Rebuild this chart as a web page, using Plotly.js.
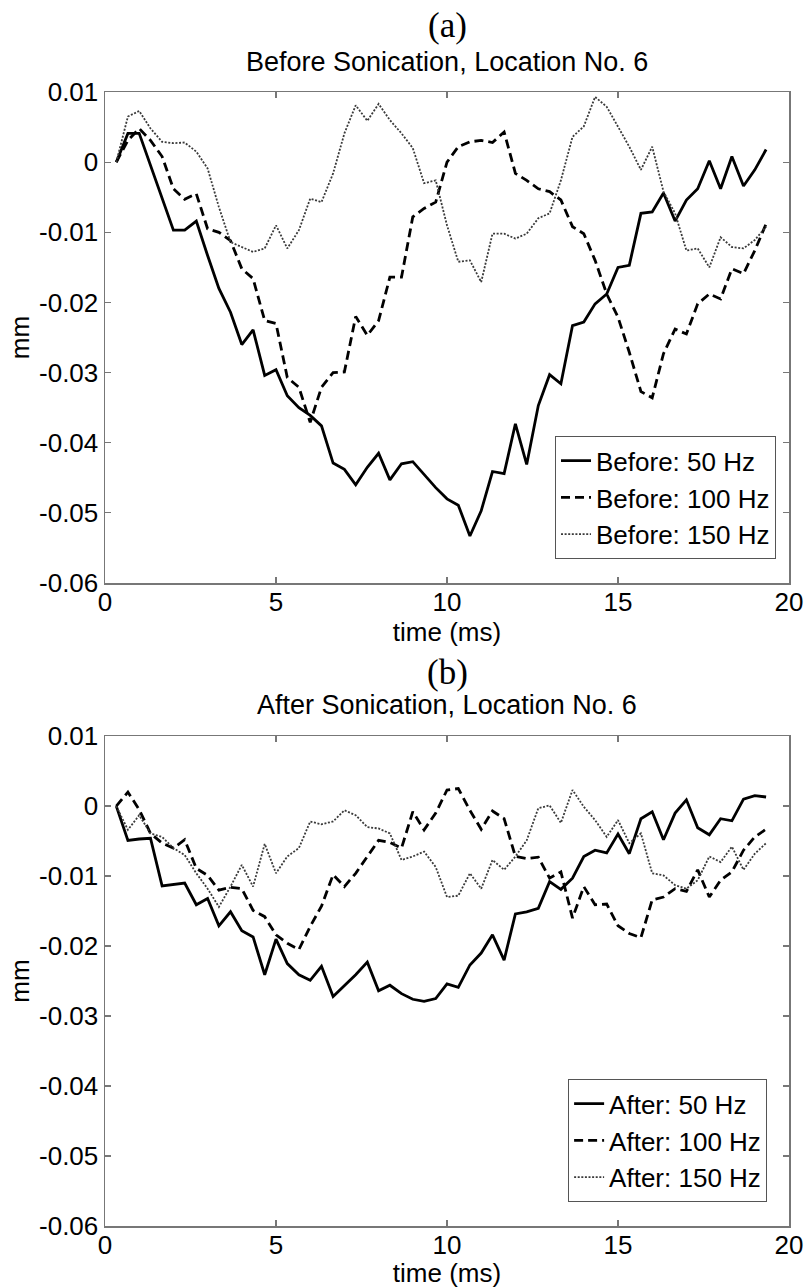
<!DOCTYPE html>
<html>
<head>
<meta charset="utf-8">
<script src="https://cdn.plot.ly/plotly-3.0.1.min.js"></script>
<style>html,body{margin:0;padding:0;background:#fff;}#chart{width:809px;height:1288px;}</style>
</head>
<body>
<div id="chart"></div>
<script>
// time axis (ms)
const time = [0.33,0.67,1.00,1.33,1.67,2.00,2.33,2.67,3.00,3.33,3.67,4.00,4.33,4.67,5.00,5.33,5.67,6.00,6.33,6.67,
  7.00,7.33,7.67,8.00,8.33,8.67,9.00,9.33,9.67,10.00,10.33,10.67,11.00,11.33,11.67,12.00,12.33,12.67,13.00,13.33,
  13.67,14.00,14.33,14.67,15.00,15.33,15.67,16.00,16.33,16.67,17.00,17.33,17.67,18.00,18.33,18.67,19.00,19.33];

// (a) Before sonication, displacement in mm
const before50 = [0,0.0041,0.0041,-0.0005,-0.0051,-0.0097,-0.0097,-0.0084,-0.0133,-0.0180,
  -0.0214,-0.0260,-0.0239,-0.0304,-0.0296,-0.0333,-0.0350,-0.0361,-0.0376,-0.0429,
  -0.0438,-0.0460,-0.0435,-0.0415,-0.0453,-0.0430,-0.0427,-0.0445,-0.0464,-0.0480,
  -0.0489,-0.0533,-0.0497,-0.0441,-0.0444,-0.0373,-0.0431,-0.0347,-0.0303,-0.0316,
  -0.0233,-0.0228,-0.0202,-0.0188,-0.0150,-0.0147,-0.0073,-0.0071,-0.0044,-0.0084,
  -0.0054,-0.0038,0.0002,-0.0038,0.0008,-0.0034,-0.0011,0.0018];
const before100 = [0,0.0031,0.0048,0.0031,0.0008,-0.0038,-0.0053,-0.0045,-0.0095,-0.0100,
  -0.0112,-0.0152,-0.0166,-0.0226,-0.0230,-0.0307,-0.0321,-0.0371,-0.0321,-0.0300,
  -0.0299,-0.0220,-0.0247,-0.0226,-0.0164,-0.0164,-0.0078,-0.0066,-0.0057,0.0000,
  0.0022,0.0029,0.0031,0.0028,0.0043,-0.0016,-0.0026,-0.0038,-0.0042,-0.0054,
  -0.0092,-0.0102,-0.0140,-0.0188,-0.0221,-0.0271,-0.0327,-0.0336,-0.0273,-0.0238,
  -0.0245,-0.0202,-0.0188,-0.0195,-0.0152,-0.0159,-0.0126,-0.0088];
const before150 = [0,0.0065,0.0073,0.0048,0.0029,0.0027,0.0028,0.0015,-0.0009,-0.0064,
  -0.0114,-0.0121,-0.0128,-0.0123,-0.0090,-0.0123,-0.0097,-0.0052,-0.0057,-0.0016,
  0.0041,0.0081,0.0059,0.0083,0.0060,0.0041,0.0020,-0.0030,-0.0026,-0.0090,
  -0.0142,-0.0140,-0.0171,-0.0102,-0.0102,-0.0109,-0.0102,-0.0080,-0.0073,-0.0026,
  0.0036,0.0051,0.0093,0.0079,0.0050,0.0022,-0.0011,0.0022,-0.0042,-0.0073,
  -0.0126,-0.0123,-0.0150,-0.0107,-0.0121,-0.0123,-0.0111,-0.0092];

// (b) After sonication, displacement in mm
const after50 = [0,-0.0049,-0.0047,-0.0046,-0.0114,-0.0112,-0.0110,-0.0141,-0.0132,-0.0171,
  -0.0151,-0.0178,-0.0187,-0.0241,-0.0190,-0.0225,-0.0241,-0.0249,-0.0229,-0.0272,
  -0.0256,-0.0241,-0.0223,-0.0264,-0.0256,-0.0268,-0.0276,-0.0279,-0.0275,-0.0254,
  -0.0259,-0.0227,-0.0210,-0.0184,-0.0220,-0.0154,-0.0151,-0.0146,-0.0108,-0.0119,
  -0.0103,-0.0072,-0.0063,-0.0067,-0.0040,-0.0068,-0.0018,-0.0008,-0.0048,-0.0010,
  0.0009,-0.0031,-0.0041,-0.0018,-0.0021,0.0010,0.0015,0.0013];
const after100 = [0,0.0020,-0.0005,-0.0039,-0.0053,-0.0060,-0.0048,-0.0089,-0.0099,-0.0120,
  -0.0116,-0.0118,-0.0149,-0.0158,-0.0184,-0.0196,-0.0205,-0.0172,-0.0143,-0.0098,
  -0.0115,-0.0096,-0.0072,-0.0049,-0.0052,-0.0060,-0.0008,-0.0034,-0.0010,0.0023,
  0.0025,-0.0006,-0.0033,-0.0007,-0.0018,-0.0072,-0.0075,-0.0073,-0.0103,-0.0094,
  -0.0160,-0.0115,-0.0141,-0.0140,-0.0171,-0.0182,-0.0188,-0.0134,-0.0130,-0.0118,
  -0.0122,-0.0091,-0.0130,-0.0106,-0.0094,-0.0063,-0.0044,-0.0033];
const after150 = [0,-0.0034,-0.0013,-0.0039,-0.0044,-0.0060,-0.0070,-0.0096,-0.0118,-0.0144,
  -0.0115,-0.0084,-0.0115,-0.0054,-0.0096,-0.0072,-0.0060,-0.0022,-0.0026,-0.0022,
  -0.0006,-0.0013,-0.0030,-0.0032,-0.0039,-0.0077,-0.0072,-0.0065,-0.0087,-0.0130,
  -0.0128,-0.0096,-0.0118,-0.0077,-0.0091,-0.0072,-0.0049,-0.0003,0.0001,-0.0024,
  0.0023,-0.0001,-0.0020,-0.0044,-0.0020,-0.0053,-0.0039,-0.0096,-0.0099,-0.0113,
  -0.0118,-0.0106,-0.0072,-0.0080,-0.0058,-0.0091,-0.0068,-0.0053];

const xTickVals = [0,5,10,15,20];
const yTickVals = [0.01,0,-0.01,-0.02,-0.03,-0.04,-0.05,-0.06];
const yTickText = ['0.01','0','-0.01','-0.02','-0.03','-0.04','-0.05','-0.06'];
const namesBefore = ['Before: 50 Hz','Before: 100 Hz','Before: 150 Hz'];
const namesAfter = ['After: 50 Hz','After: 100 Hz','After: 150 Hz'];
const panelLabels = ['(a)','(b)'];
const panelTitles = ['Before Sonication, Location No. 6','After Sonication, Location No. 6'];

const SANS = 'Liberation Sans, Arial, Helvetica, sans-serif';
const SERIF = 'Liberation Serif, Times New Roman, serif';
const FS = 26;
const styles = [
  {color:'#000', width:2.8, dash:'solid'},
  {color:'#000', width:2.8, dash:'9px,5px'},
  {color:'#3a3a3a', width:1.8, dash:'2px,1.6px'}
];

function tr(y, name, s, xa, ya, lg){
  return {x: time, y: y, name: name, type:'scatter', mode:'lines',
    line:{color:s.color, width:s.width, dash:s.dash}, xaxis:xa, yaxis:ya, legend:lg,
    hoverinfo:'skip'};
}
const data = [
  tr(before50, namesBefore[0], styles[0], 'x', 'y', 'legend'),
  tr(before100, namesBefore[1], styles[1], 'x', 'y', 'legend'),
  tr(before150, namesBefore[2], styles[2], 'x', 'y', 'legend'),
  tr(after50, namesAfter[0], styles[0], 'x2', 'y2', 'legend2'),
  tr(after100, namesAfter[1], styles[1], 'x2', 'y2', 'legend2'),
  tr(after150, namesAfter[2], styles[2], 'x2', 'y2', 'legend2')
];

const axisCommon = {
  showline:true, linecolor:'#777', linewidth:1.5, mirror:'ticks',
  ticks:'inside', ticklen:6, tickwidth:1.2, tickcolor:'#777',
  showgrid:false, zeroline:false,
  tickfont:{family:SANS, size:FS, color:'#000'}
};
function xax(anchor){
  return Object.assign({}, axisCommon, {anchor:anchor, domain:[0,1], range:[0,20],
    tickmode:'array', tickvals:xTickVals, ticklabelstandoff:-5,
    title:{text:'time (ms)', font:{family:SANS, size:FS, color:'#000'}, standoff:4}});
}
function yax(anchor, dom){
  return Object.assign({}, axisCommon, {anchor:anchor, domain:dom, range:[-0.06,0.01],
    tickmode:'array', tickvals:yTickVals, ticktext:yTickText,
    title:{text:'mm', font:{family:SANS, size:FS, color:'#000'}, standoff:2}});
}
const legendCommon = {bgcolor:'#fff', bordercolor:'#555', borderwidth:1,
  font:{family:SANS, size:FS, color:'#000'}, xanchor:'right', yanchor:'bottom',
  tracegroupgap:0, itemwidth:30};

const layout = {
  width:809, height:1288,
  margin:{l:105, r:20, t:92, b:62},
  paper_bgcolor:'#fff', plot_bgcolor:'#fff',
  showlegend:true,
  xaxis: xax('y'), yaxis: yax('x', [0.567,1]),
  xaxis2: xax('y2'), yaxis2: yax('x2', [0,0.432]),
  legend: Object.assign({}, legendCommon, {x:0.981, y:0.588}),
  legend2: Object.assign({}, legendCommon, {x:0.968, y:0.021}),
  annotations:[
    {text:panelLabels[0], xref:'paper', yref:'paper', x:0.5, y:1.059, xanchor:'center', yanchor:'middle', showarrow:false, font:{family:SERIF, size:35, color:'#000'}},
    {text:panelTitles[0], xref:'paper', yref:'paper', x:0.5, y:1.0265, xanchor:'center', yanchor:'middle', showarrow:false, font:{family:SANS, size:27, color:'#000'}},
    {text:panelLabels[1], xref:'paper', yref:'paper', x:0.5, y:0.4885, xanchor:'center', yanchor:'middle', showarrow:false, font:{family:SERIF, size:35, color:'#000'}},
    {text:panelTitles[1], xref:'paper', yref:'paper', x:0.5, y:0.4594, xanchor:'center', yanchor:'middle', showarrow:false, font:{family:SANS, size:27, color:'#000'}}
  ]
};

Plotly.newPlot('chart', data, layout, {displayModeBar:false, staticPlot:true});
</script>
</body>
</html>
